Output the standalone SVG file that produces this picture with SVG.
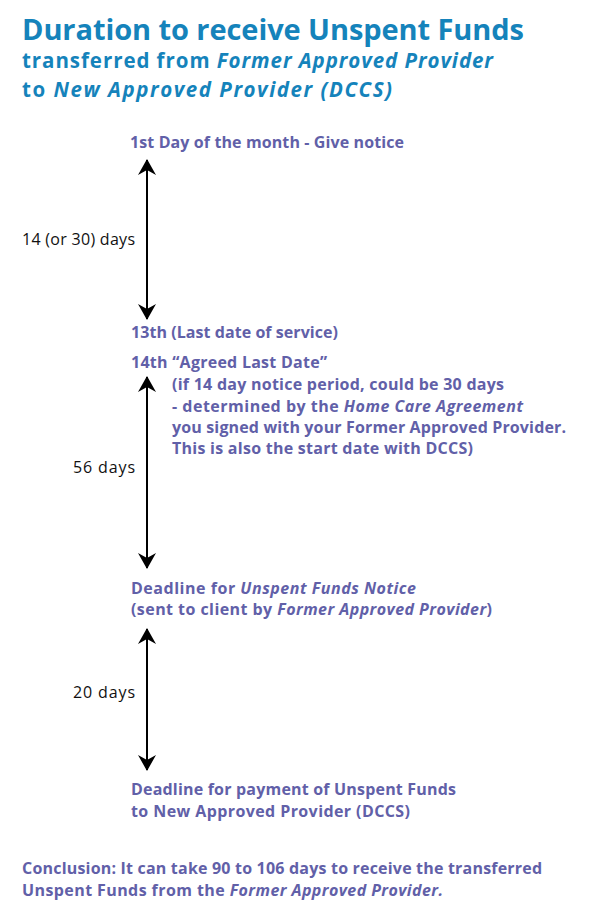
<svg xmlns="http://www.w3.org/2000/svg" width="595" height="918" viewBox="0 0 595 918">
<style>
  text { font-family: "Open Sans", "Liberation Sans", sans-serif; }
  .t1 { font-size: 29px; font-weight: 700; fill: #1583bb; }
  .t2 { font-size: 20.5px; font-weight: 700; fill: #1583bb; }
  .p { font-size: 16px; font-weight: 700; fill: #6160a8; }
  .d { font-size: 16px; font-weight: 400; fill: #111111; }
  .i { font-style: italic; }
  .ln { stroke: #000; stroke-width: 2; fill: none; }
</style>
<defs>
  <marker id="ah" viewBox="0 0 16 18" refX="15" refY="9" markerWidth="16" markerHeight="18" markerUnits="userSpaceOnUse" orient="auto-start-reverse">
    <path d="M16 9 L0 0 L5 9 L0 18 Z" fill="#000"/>
  </marker>
</defs>
<rect width="595" height="918" fill="#ffffff"/>
<g id="title">
  <text class="t1" x="22" y="40" textLength="502" lengthAdjust="spacing">Duration to receive Unspent Funds</text>
  <text class="t2" x="22" y="68" textLength="471" lengthAdjust="spacing">transferred from <tspan class="i">Former Approved Provider</tspan></text>
  <text class="t2" x="22" y="97" textLength="370" lengthAdjust="spacing">to <tspan class="i">New Approved Provider (DCCS)</tspan></text>
</g>
<g id="connectors">
  <line class="ln" x1="147" y1="160" x2="147" y2="319" marker-start="url(#ah)" marker-end="url(#ah)"/>
  <line class="ln" x1="147" y1="377" x2="147" y2="568" marker-start="url(#ah)" marker-end="url(#ah)"/>
  <line class="ln" x1="147" y1="629" x2="147" y2="770" marker-start="url(#ah)" marker-end="url(#ah)"/>
  <text class="d" x="22" y="245" textLength="113" lengthAdjust="spacing">14 (or 30) days</text>
  <text class="d" x="73" y="473" textLength="62" lengthAdjust="spacing">56 days</text>
  <text class="d" x="73" y="698" textLength="62" lengthAdjust="spacing">20 days</text>
</g>
<g id="node-notice">
  <text class="p" x="130" y="148" textLength="274" lengthAdjust="spacing">1st Day of the month - Give notice</text>
</g>
<g id="node-13th">
  <text class="p" x="131" y="338" textLength="207" lengthAdjust="spacing">13th (Last date of service)</text>
</g>
<g id="node-14th">
  <text class="p" x="131" y="368" textLength="196" lengthAdjust="spacing">14th “Agreed Last Date”</text>
  <text class="p" x="172" y="390" textLength="332" lengthAdjust="spacing">(if 14 day notice period, could be 30 days</text>
  <text class="p" x="172" y="412" textLength="351" lengthAdjust="spacing">- determined by the <tspan class="i">Home Care Agreement</tspan></text>
  <text class="p" x="172" y="433" textLength="394" lengthAdjust="spacing">you signed with your Former Approved Provider.</text>
  <text class="p" x="172" y="454" textLength="301" lengthAdjust="spacing">This is also the start date with DCCS)</text>
</g>
<g id="node-ufn">
  <text class="p" x="131" y="594" textLength="285" lengthAdjust="spacing">Deadline for <tspan class="i">Unspent Funds Notice</tspan></text>
  <text class="p" x="131" y="615" textLength="361" lengthAdjust="spacing">(sent to client by <tspan class="i">Former Approved Provider</tspan>)</text>
</g>
<g id="node-payment">
  <text class="p" x="131" y="795" textLength="325" lengthAdjust="spacing">Deadline for payment of Unspent Funds</text>
  <text class="p" x="131" y="817" textLength="279" lengthAdjust="spacing">to New Approved Provider (DCCS)</text>
</g>
<g id="conclusion">
  <text class="p" x="22" y="874" textLength="520" lengthAdjust="spacing">Conclusion: It can take 90 to 106 days to receive the transferred</text>
  <text class="p" x="22" y="896" textLength="421" lengthAdjust="spacing">Unspent Funds from the <tspan class="i">Former Approved Provider.</tspan></text>
</g>
</svg>
